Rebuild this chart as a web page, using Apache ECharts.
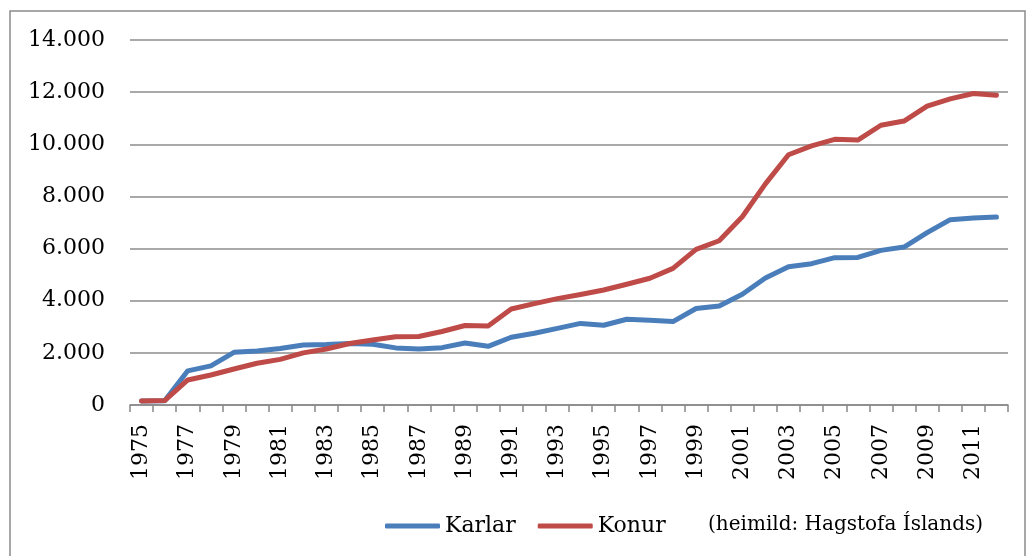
<!DOCTYPE html>
<html>
<head>
<meta charset="utf-8">
<script src="https://cdn.jsdelivr.net/npm/echarts@6/dist/echarts.min.js"></script>
<style>
html,body{margin:0;padding:0;background:#fff;}
#chart{width:1026px;height:556px;}
</style>
</head>
<body>
<div id="chart"></div>
<script>
var years = [];
for (var y = 1975; y <= 2012; y++) years.push(String(y));

var karlar = [150,160,1310,1500,2020,2070,2170,2300,2320,2360,2330,2190,2150,2200,2380,2250,2600,2750,2940,3130,3060,3290,3250,3200,3700,3800,4250,4870,5300,5420,5650,5660,5930,6060,6610,7110,7170,7210];
var konur = [150,170,960,1150,1380,1600,1750,2000,2150,2360,2490,2620,2630,2820,3050,3030,3680,3890,4080,4240,4410,4630,4860,5240,5970,6300,7220,8480,9600,9940,10190,10160,10730,10890,11460,11740,11950,11880];

var seriesNames = ['Karlar', 'Konur'];
var sourceText = '(heimild: Hagstofa Íslands)';

var FONT = '"DejaVu Serif", serif';

function fmt(v) {
  return String(v).replace(/\B(?=(\d{3})+(?!\d))/g, '.');
}

var chart = echarts.init(document.getElementById('chart'), null, {renderer: 'canvas'});
chart.setOption({
  animation: false,
  backgroundColor: '#fff',
  grid: {left: 130, right: 18, top: 40, bottom: 151},
  legend: {
    data: seriesNames,
    left: 380,
    top: 510,
    icon: 'roundRect',
    itemWidth: 55,
    itemHeight: 5,
    itemGap: 22,
    textStyle: {fontFamily: FONT, fontSize: 22, color: '#000'}
  },
  graphic: [
    {type: 'rect', shape: {x: 10, y: 11, width: 1015, height: 560},
     style: {fill: 'none', stroke: '#8a8a8a', lineWidth: 1.5}, silent: true},
    {type: 'text', left: 708, top: 515,
     style: {text: sourceText, fontFamily: FONT, fontSize: 20, fill: '#000'}}
  ],
  xAxis: {
    type: 'category',
    data: years,
    boundaryGap: true,
    axisLine: {lineStyle: {color: '#888', width: 1.5}},
    axisTick: {show: true, interval: 0, length: 7, lineStyle: {color: '#888', width: 1.5}},
    axisLabel: {interval: 1, rotate: 90, margin: 19, fontFamily: FONT, fontSize: 22, color: '#000'},
    splitLine: {show: false}
  },
  yAxis: {
    type: 'value',
    min: 0, max: 14000, interval: 2000,
    axisLine: {show: false},
    axisTick: {show: false},
    axisLabel: {margin: 25, fontFamily: FONT, fontSize: 22, color: '#000', formatter: fmt},
    splitLine: {lineStyle: {color: '#8c8c8c', width: 1.5}}
  },
  series: [
    {name: seriesNames[0], type: 'line', data: karlar, symbol: 'none',
     lineStyle: {color: '#4A7EBB', width: 5, cap: 'round', join: 'round'}, itemStyle: {color: '#4A7EBB'}},
    {name: seriesNames[1], type: 'line', data: konur, symbol: 'none',
     lineStyle: {color: '#BE4B48', width: 5, cap: 'round', join: 'round'}, itemStyle: {color: '#BE4B48'}}
  ]
});
</script>
</body>
</html>
